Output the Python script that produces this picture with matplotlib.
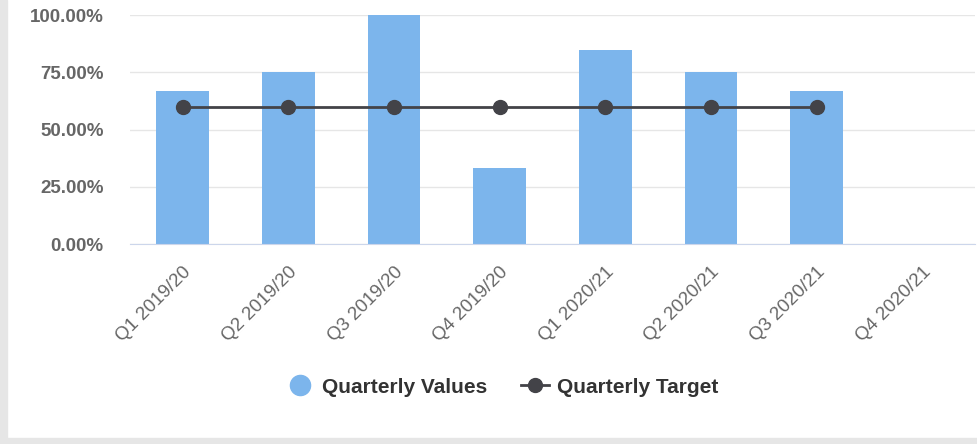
import numpy as np
import matplotlib.pyplot as plt
from matplotlib.lines import Line2D
from matplotlib.patches import Rectangle

# quarterly data
quarters = ['Q1 2019/20', 'Q2 2019/20', 'Q3 2019/20', 'Q4 2019/20',
            'Q1 2020/21', 'Q2 2020/21', 'Q3 2020/21', 'Q4 2020/21']
values = [66.67, 75.0, 100.0, 33.33, 84.62, 75.0, 66.67, np.nan]
target = [60, 60, 60, 60, 60, 60, 60, np.nan]
yticks = [0, 25, 50, 75, 100]

bar_col = '#7cb5ec'
line_col = '#434348'

plt.rcParams['font.family'] = ['Liberation Sans', 'DejaVu Sans']

fig = plt.figure(figsize=(9.77, 4.44), dpi=100)
# frame of the widget
fig.patches.append(Rectangle((0, 0), 7 / 977, 1, transform=fig.transFigure,
                             color='#e6e6e6', zorder=0))
fig.patches.append(Rectangle((0, 0), 1, 6 / 444, transform=fig.transFigure,
                             color='#e6e6e6', zorder=0))

ax = fig.add_axes([130 / 977, 1 - 244 / 444, 845 / 977, 229 / 444])
x = np.arange(len(quarters))
vals = np.nan_to_num(np.array(values, dtype=float))
ax.bar(x, vals, width=0.5, color=bar_col, zorder=2)
ax.plot(x, target, color=line_col, lw=2, marker='o', markersize=10, zorder=3)

ax.set_xlim(-0.5, len(quarters) - 0.5)
ax.set_ylim(0, 100)
ax.set_yticks(yticks)
ax.set_yticklabels([f'{v:.2f}%' for v in yticks])
ax.set_xticks(x)
ax.set_xticklabels(quarters, rotation=45, ha='right', va='top',
                   rotation_mode='anchor')
for t in ax.get_xticklabels():
    t.set_x(t.get_position()[0])
ax.tick_params(axis='y', length=0, pad=19, labelsize=13.5, labelcolor='#666666')
ax.tick_params(axis='x', length=0, pad=14, labelsize=13.5, labelcolor='#666666')
for t in ax.get_yticklabels():
    t.set_fontweight('semibold')
ax.grid(axis='y', color='#e6e6e6', lw=1, zorder=0)
for s in ['top', 'right', 'left']:
    ax.spines[s].set_visible(False)
ax.spines['bottom'].set_color('#ccd6eb')
ax.spines['bottom'].set_zorder(4)

handles = [Line2D([], [], ls='', marker='o', markersize=14.5, color=bar_col),
           Line2D([], [], color=line_col, lw=2, marker='o', markersize=10)]
leg = fig.legend(handles, ['Quarterly Values', 'Quarterly Target'],
                 loc='center', bbox_to_anchor=(502 / 977, 1 - 387 / 444), ncol=2,
                 frameon=False, handlelength=1.35, handletextpad=0.4,
                 columnspacing=1.6, prop={'size': 15, 'weight': 'bold'})
for t in leg.get_texts():
    t.set_color('#333333')

fig.savefig('out.png', dpi=100)
